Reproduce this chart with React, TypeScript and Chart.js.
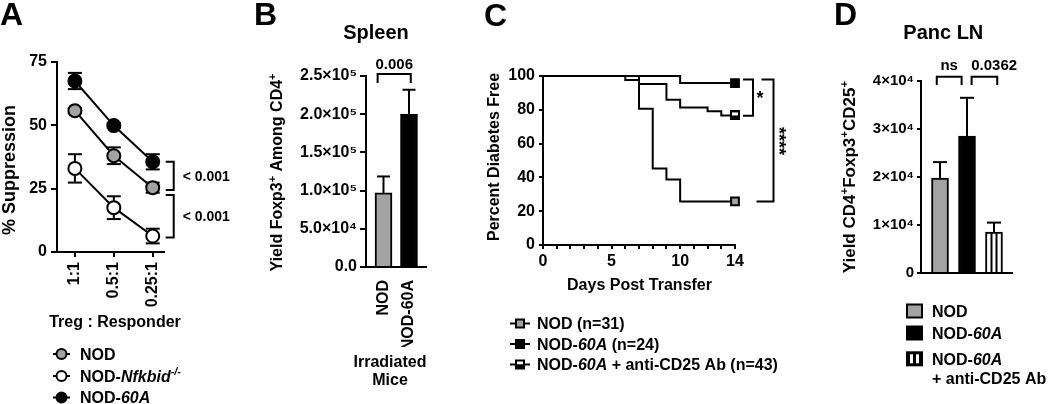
import React, { useEffect, useRef } from 'react';
import { Chart, registerables } from 'chart.js';

Chart.register(...registerables);

const W = 1050;
const H = 404;
const FAMILY = '"Liberation Sans", Arial, Helvetica, sans-serif';
const GREY = '#a3a3a3';
const BLACK = '#000000';
const WHITE = '#ffffff';

// ---------------- Panel A: % suppression ----------------
const ratioLabels = ['1:1', '0.5:1', '0.25:1'];
const suppressionNOD = [55.8, 38.0, 25.4];
const suppressionNODErr = [1.0, 3.3, 2.0];
const suppressionNfkbid = [33.0, 17.5, 6.3];
const suppressionNfkbidErr = [5.6, 4.5, 2.9];
const suppression60A = [67.5, 49.9, 35.6];
const suppression60AErr = [3.2, 1.0, 3.0];
const suppressionTicks = ['0', '25', '50', '75'];

// ---------------- Panel B: spleen yield ----------------
const spleenGroups = ['NOD', 'NOD-60A'];
const spleenYield = [97000, 200000];
const spleenYieldErr = [21500, 32000];
const spleenTicks = ['0.0', '5.0×10⁴', '1.0×10⁵', '1.5×10⁵', '2.0×10⁵', '2.5×10⁵'];

// ---------------- Panel C: survival ----------------
const survivalNODDays = [0, 7, 8, 9, 10, 14];
const survivalNOD = [100, 80.6, 45.2, 38.7, 25.8, 25.8];
const survival60ADays = [0, 10, 14];
const survival60A = [100, 95.8, 95.8];
const survivalCD25Days = [0, 6, 7, 9, 10, 12, 13, 14];
const survivalCD25 = [100, 97.7, 95.3, 86.0, 81.4, 79.1, 76.7, 76.7];
const dayTickValues = [0, 1, 2, 3, 4, 5, 6, 7, 8, 9, 10, 11, 12, 13, 14];
const dayTickLabels = ['0', '', '', '', '', '5', '', '', '', '', '10', '', '', '', '14'];
const percentTicks = ['0', '20', '40', '60', '80', '100'];

// ---------------- Panel D: pancreatic LN yield ----------------
const lnGroups = ['NOD', 'NOD-60A', 'NOD-60A + anti-CD25 Ab'];
const lnYield = [19800, 28500, 8500];
const lnYieldErr = [3300, 8000, 2000];
const lnTicks = ['0', '1×10⁴', '2×10⁴', '3×10⁴', '4×10⁴'];

// ---------------- helpers ----------------
function font(size: number, italic = false) {
  return `${italic ? 'italic ' : ''}bold ${size}px ${FAMILY}`;
}

type Seg = { t: string; i?: boolean; sup?: boolean };

function drawRich(ctx: any, segs: Seg[], x: number, y: number, size: number, align = 'left', rot = 0) {
  ctx.save();
  ctx.translate(x, y);
  if (rot) ctx.rotate(rot);
  ctx.textBaseline = 'alphabetic';
  ctx.textAlign = 'left';
  ctx.fillStyle = BLACK;
  const widths = segs.map((s) => {
    ctx.font = font(s.sup ? size * 0.68 : size, s.i);
    return ctx.measureText(s.t).width;
  });
  const total = widths.reduce((a, b) => a + b, 0);
  let cx = align === 'left' ? 0 : align === 'center' ? -total / 2 : -total;
  segs.forEach((s, k) => {
    ctx.font = font(s.sup ? size * 0.68 : size, s.i);
    ctx.fillText(s.t, cx, s.sup ? -size * 0.4 : 0);
    cx += widths[k];
  });
  ctx.restore();
}

function drawText(ctx: any, t: string, x: number, y: number, size: number, align = 'left', rot = 0) {
  drawRich(ctx, [{ t }], x, y, size, align, rot);
}

function drawGlyphsCentered(ctx: any, t: string, cx: number, cy: number, size: number, rot = 0) {
  ctx.save();
  ctx.translate(cx, cy);
  if (rot) ctx.rotate(rot);
  ctx.font = font(size);
  ctx.textAlign = 'center';
  ctx.textBaseline = 'alphabetic';
  const m = ctx.measureText(t);
  const off = (m.actualBoundingBoxAscent - m.actualBoundingBoxDescent) / 2;
  ctx.fillStyle = BLACK;
  ctx.fillText(t, 0, off);
  ctx.restore();
}

function line(ctx: any, pts: number[][], width = 2) {
  ctx.save();
  ctx.strokeStyle = BLACK;
  ctx.lineWidth = width;
  ctx.lineCap = 'butt';
  ctx.lineJoin = 'miter';
  ctx.beginPath();
  pts.forEach(([x, y], k) => (k ? ctx.lineTo(x, y) : ctx.moveTo(x, y)));
  ctx.stroke();
  ctx.restore();
}

function circle(ctx: any, x: number, y: number, r: number, fill: string) {
  ctx.save();
  ctx.beginPath();
  ctx.arc(x, y, r, 0, Math.PI * 2);
  ctx.fillStyle = fill;
  ctx.fill();
  ctx.lineWidth = 2;
  ctx.strokeStyle = BLACK;
  ctx.stroke();
  ctx.restore();
}

function layoutFor(L: number, T: number, R: number, B: number, wy: number, hx: number) {
  return { padding: { left: L - wy, top: T, right: W - R, bottom: H - B - hx } };
}

function yAxis(min: number, max: number, step: number, labels: string[], tickLength: number, padding: number, size: number, width: number) {
  return {
    type: 'linear',
    min,
    max,
    afterFit: (s: any) => {
      s.width = width;
    },
    border: { display: true, color: BLACK, width: 2 },
    grid: { display: true, drawOnChartArea: false, drawTicks: true, tickLength, color: BLACK, lineWidth: 2 },
    ticks: {
      stepSize: step,
      color: BLACK,
      padding,
      font: { family: FAMILY, size, weight: 'bold' },
      callback: (_v: any, i: number) => labels[i],
    },
  };
}

const common = {
  responsive: false,
  animation: false,
  devicePixelRatio: 1,
  events: [],
  plugins: { legend: { display: false }, tooltip: { enabled: false }, title: { display: false } },
};

function upErrorBars(chart: any, half: number) {
  const ctx = chart.ctx;
  const ys = chart.scales.y;
  const ds = chart.data.datasets[0];
  const meta = chart.getDatasetMeta(0);
  meta.data.forEach((el: any, j: number) => {
    const v = ds.data[j].y;
    const top = ys.getPixelForValue(v + ds.errors[j]);
    line(ctx, [[el.x, el.y], [el.x, top]]);
    line(ctx, [[el.x - half, top], [el.x + half, top]]);
  });
}

// ---------------- Panel A ----------------
function suppressionSeries(label: string, values: number[], errs: number[], fill: string) {
  return {
    label,
    data: values.map((y, i) => ({ x: i, y })),
    errors: errs,
    borderColor: BLACK,
    borderWidth: 2,
    pointRadius: 6.5,
    pointBackgroundColor: fill,
    pointBorderColor: BLACK,
    pointBorderWidth: 2,
    tension: 0,
    clip: false,
  };
}

const pluginA = {
  id: 'panelA',
  beforeDatasetsDraw(chart: any) {
    const ctx = chart.ctx;
    const ys = chart.scales.y;
    chart.data.datasets.forEach((ds: any, i: number) => {
      chart.getDatasetMeta(i).data.forEach((pt: any, j: number) => {
        const v = ds.data[j].y;
        const e = ds.errors[j];
        const lo = ys.getPixelForValue(v - e);
        const hi = ys.getPixelForValue(v + e);
        line(ctx, [[pt.x, lo], [pt.x, hi]]);
        line(ctx, [[pt.x - 7, hi], [pt.x + 7, hi]]);
        line(ctx, [[pt.x - 7, lo], [pt.x + 7, lo]]);
      });
    });
  },
  afterDraw(chart: any) {
    const ctx = chart.ctx;
    const xs = chart.scales.x;
    const ys = chart.scales.y;
    drawText(ctx, 'A', 0, 25, 32);
    drawText(ctx, '% Suppression', 15, 170, 18, 'center', -Math.PI / 2);
    drawText(ctx, 'Treg : Responder', 115, 327, 16, 'center');
    const bx = xs.getPixelForValue(2);
    const spans = [
      [ys.getPixelForValue(35.6), ys.getPixelForValue(24.5)],
      [ys.getPixelForValue(22.5), ys.getPixelForValue(5.7)],
    ];
    spans.forEach(([t, b]) => {
      line(ctx, [[bx + 13, t], [bx + 21, t], [bx + 21, b], [bx + 13, b]]);
      drawText(ctx, '< 0.001', bx + 30, (t + b) / 2 + 5, 14);
    });
    const rows = [
      { y: 354, fill: GREY, segs: [{ t: 'NOD' }] },
      { y: 376, fill: WHITE, segs: [{ t: 'NOD-' }, { t: 'Nfkbid', i: true }, { t: '-/-', i: true, sup: true }] },
      { y: 397.5, fill: BLACK, segs: [{ t: 'NOD-' }, { t: '60A', i: true }] },
    ];
    rows.forEach((r) => {
      line(ctx, [[53, r.y], [70, r.y]]);
      circle(ctx, 61.5, r.y, 5, r.fill);
      drawRich(ctx, r.segs, 80, r.y + 5.7, 16);
    });
  },
};

function configA(): any {
  return {
    type: 'line',
    data: {
      datasets: [
        suppressionSeries('NOD-60A', suppression60A, suppression60AErr, BLACK),
        suppressionSeries('NOD', suppressionNOD, suppressionNODErr, GREY),
        suppressionSeries('NOD-Nfkbid-/-', suppressionNfkbid, suppressionNfkbidErr, WHITE),
      ],
    },
    options: {
      ...common,
      layout: layoutFor(57, 62, 164, 252, 50, 60),
      scales: {
        x: {
          type: 'linear',
          min: -0.46,
          max: 2.29,
          offset: false,
          afterBuildTicks: (s: any) => {
            s.ticks = ratioLabels.map((_, i) => ({ value: i }));
          },
          afterFit: (s: any) => {
            s.height = 60;
          },
          border: { display: true, color: BLACK, width: 2 },
          grid: { display: true, drawOnChartArea: false, drawTicks: true, tickLength: 5, color: BLACK, lineWidth: 2, offset: false },
          ticks: {
            autoSkip: false,
            minRotation: 90,
            maxRotation: 90,
            padding: 5,
            color: BLACK,
            font: { family: FAMILY, size: 16, weight: 'bold' },
            callback: (_v: any, i: number) => ratioLabels[i],
          },
        },
        y: yAxis(0, 75, 25, suppressionTicks, 6, 4, 16, 50),
      },
    },
    plugins: [pluginA],
  };
}

// ---------------- Panel B ----------------
const pluginB = {
  id: 'panelB',
  afterDatasetsDraw(chart: any) {
    upErrorBars(chart, 6.5);
  },
  afterDraw(chart: any) {
    const ctx = chart.ctx;
    const xs = chart.scales.x;
    drawText(ctx, 'B', 254, 25, 32);
    drawText(ctx, 'Spleen', 376, 39, 20, 'center');
    drawRich(
      ctx,
      [{ t: 'Yield Foxp3' }, { t: '+', sup: true }, { t: ' Among CD4' }, { t: '+', sup: true }],
      282,
      172.5,
      16,
      'center',
      -Math.PI / 2
    );
    const x0 = xs.getPixelForValue(-0.23);
    const x1 = xs.getPixelForValue(1.07);
    line(ctx, [[x0, 83], [x0, 74], [x1, 74], [x1, 83]]);
    drawText(ctx, '0.006', (x0 + x1) / 2, 68.5, 15, 'center');
    drawText(ctx, 'Irradiated', 390, 366.5, 16, 'center');
    drawText(ctx, 'Mice', 390, 384.7, 16, 'center');
  },
};

function configB(): any {
  return {
    type: 'bar',
    data: {
      datasets: [
        {
          label: 'Yield',
          data: spleenYield.map((y, i) => ({ x: i, y })),
          errors: spleenYieldErr,
          backgroundColor: [GREY, BLACK],
          borderColor: BLACK,
          borderWidth: 2,
          barThickness: 17,
          clip: false,
        },
      ],
    },
    options: {
      ...common,
      layout: layoutFor(366, 76, 426, 267, 80, 80),
      scales: {
        x: {
          type: 'linear',
          min: -0.686,
          max: 1.667,
          offset: false,
          afterBuildTicks: (s: any) => {
            s.ticks = spleenGroups.map((_, i) => ({ value: i }));
          },
          afterFit: (s: any) => {
            s.height = 80;
          },
          border: { display: true, color: BLACK, width: 2 },
          grid: { display: false, offset: false },
          ticks: {
            autoSkip: false,
            minRotation: 90,
            maxRotation: 90,
            padding: 5,
            color: BLACK,
            font: { family: FAMILY, size: 16, weight: 'bold' },
            callback: (_v: any, i: number) => spleenGroups[i],
          },
        },
        y: yAxis(0, 250000, 50000, spleenTicks, 6, 3, 16, 80),
      },
    },
    plugins: [pluginB],
  };
}

// ---------------- Panel C ----------------
function survivalSeries(label: string, days: number[], values: number[], style: any) {
  return {
    label,
    data: days.map((x, i) => ({ x, y: values[i] })),
    stepped: true,
    borderColor: BLACK,
    borderWidth: 2,
    pointRadius: days.map((_, i) => (i === days.length - 1 ? 5.5 : 0)),
    pointStyle: style.pointStyle,
    pointBackgroundColor: style.fill,
    pointBorderColor: BLACK,
    pointBorderWidth: 2,
    clip: false,
  };
}

function halfSquare(size: number) {
  const c = document.createElement('canvas');
  c.width = size;
  c.height = size;
  const g = c.getContext('2d')!;
  g.fillStyle = BLACK;
  g.fillRect(0, 0, size, size);
  g.fillStyle = WHITE;
  g.fillRect(2, 2, size - 4, size / 2 - 2);
  return c;
}

function legendSquare(ctx: any, x: number, y: number, kind: string) {
  line(ctx, [[x - 10, y], [x + 10, y]]);
  const s = 8;
  ctx.save();
  if (kind === 'half') {
    ctx.fillStyle = WHITE;
    ctx.fillRect(x - s / 2, y - s / 2, s, s / 2);
    ctx.fillStyle = BLACK;
    ctx.fillRect(x - s / 2, y, s, s / 2);
  } else {
    ctx.fillStyle = kind;
    ctx.fillRect(x - s / 2, y - s / 2, s, s);
  }
  ctx.strokeStyle = BLACK;
  ctx.lineWidth = 2;
  ctx.strokeRect(x - s / 2, y - s / 2, s, s);
  ctx.restore();
}

const pluginC = {
  id: 'panelC',
  afterDraw(chart: any) {
    const ctx = chart.ctx;
    const xs = chart.scales.x;
    const ys = chart.scales.y;
    drawText(ctx, 'C', 484, 26, 32);
    drawText(ctx, 'Percent Diabetes Free', 498.5, 157, 16, 'center', -Math.PI / 2);
    drawText(ctx, 'Days Post Transfer', 639.5, 289.7, 16, 'center');
    const xe = xs.getPixelForValue(14);
    const yT = ys.getPixelForValue(98);
    const yS = ys.getPixelForValue(76.5);
    const yN = ys.getPixelForValue(25.8);
    line(ctx, [[xe + 8, yT], [xe + 18, yT], [xe + 18, yS], [xe + 8, yS]]);
    drawGlyphsCentered(ctx, '*', xe + 25, 94.5, 18);
    line(ctx, [[xe + 26.5, yT], [xe + 38.5, yT], [xe + 38.5, yN], [xe + 21.5, yN]]);
    drawGlyphsCentered(ctx, '****', xe + 47, 141, 18, Math.PI / 2);
    const rows = [
      { y: 323.5, kind: GREY, segs: [{ t: 'NOD (n=31)' }] },
      { y: 344, kind: BLACK, segs: [{ t: 'NOD-' }, { t: '60A', i: true }, { t: ' (n=24)' }] },
      { y: 364.5, kind: 'half', segs: [{ t: 'NOD-' }, { t: '60A', i: true }, { t: ' + anti-CD25 Ab (n=43)' }] },
    ];
    rows.forEach((r) => {
      legendSquare(ctx, 520, r.y, r.kind);
      drawRich(ctx, r.segs, 537, r.y + 5.7, 16);
    });
  },
};

function configC(): any {
  return {
    type: 'line',
    data: {
      datasets: [
        survivalSeries('NOD (n=31)', survivalNODDays, survivalNOD, { pointStyle: 'rect', fill: GREY }),
        survivalSeries('NOD-60A + anti-CD25 Ab (n=43)', survivalCD25Days, survivalCD25, { pointStyle: halfSquare(10), fill: WHITE }),
        survivalSeries('NOD-60A (n=24)', survival60ADays, survival60A, { pointStyle: 'rect', fill: BLACK }),
      ],
    },
    options: {
      ...common,
      layout: layoutFor(543, 76, 735, 245, 50, 30),
      scales: {
        x: {
          type: 'linear',
          min: 0,
          max: 14,
          offset: false,
          afterBuildTicks: (s: any) => {
            s.ticks = dayTickValues.map((v) => ({ value: v }));
          },
          afterFit: (s: any) => {
            s.height = 30;
          },
          border: { display: true, color: BLACK, width: 2 },
          grid: { display: true, drawOnChartArea: false, drawTicks: true, tickLength: 4, color: BLACK, lineWidth: 2, offset: false },
          ticks: {
            autoSkip: false,
            minRotation: 0,
            maxRotation: 0,
            padding: 3,
            color: BLACK,
            font: { family: FAMILY, size: 16, weight: 'bold' },
            callback: (_v: any, i: number) => dayTickLabels[i],
          },
        },
        y: yAxis(0, 100, 20, percentTicks, 4, 4, 16, 50),
      },
    },
    plugins: [pluginC],
  };
}

// ---------------- Panel D ----------------
const pluginD = {
  id: 'panelD',
  afterDatasetsDraw(chart: any) {
    const ctx = chart.ctx;
    const el = chart.getDatasetMeta(0).data[2];
    const xl = el.x - el.width / 2;
    ctx.save();
    ctx.fillStyle = BLACK;
    [5, 10].forEach((o) => ctx.fillRect(xl + o, el.y, 2, el.base - el.y));
    ctx.restore();
    upErrorBars(chart, 7);
  },
  afterDraw(chart: any) {
    const ctx = chart.ctx;
    const xs = chart.scales.x;
    drawText(ctx, 'D', 834, 25, 32);
    drawText(ctx, 'Panc LN', 943.3, 39, 20, 'center');
    drawRich(
      ctx,
      [{ t: 'Yield CD4' }, { t: '+', sup: true }, { t: 'Foxp3' }, { t: '+', sup: true }, { t: 'CD25' }, { t: '+', sup: true }],
      855,
      177,
      17,
      'center',
      -Math.PI / 2
    );
    const brackets = [
      { a: xs.getPixelForValue(-0.12), b: xs.getPixelForValue(0.8) },
      { a: xs.getPixelForValue(1.17), b: xs.getPixelForValue(2.12) },
    ];
    brackets.forEach((br) => {
      line(ctx, [[br.a, 85], [br.a, 76.7], [br.b, 76.7], [br.b, 85]]);
    });
    drawText(ctx, 'ns', 949.2, 69.5, 15, 'center');
    drawText(ctx, '0.0362', 994.2, 69.5, 15, 'center');
    const rows = [
      { y: 311, kind: GREY, segs: [{ t: 'NOD' }] },
      { y: 333, kind: BLACK, segs: [{ t: 'NOD-' }, { t: '60A', i: true }] },
      { y: 358.8, kind: 'stripe', segs: [{ t: 'NOD-' }, { t: '60A', i: true }] },
    ];
    rows.forEach((r) => {
      const x0 = 906;
      const w = 17;
      const h = 15;
      ctx.save();
      if (r.kind === 'stripe') {
        ctx.fillStyle = BLACK;
        ctx.fillRect(x0, r.y - h / 2, w, h);
        ctx.fillStyle = WHITE;
        ctx.fillRect(x0 + 4, r.y - h / 2 + 3, 3, h - 6);
        ctx.fillRect(x0 + 10, r.y - h / 2 + 3, 3, h - 6);
      } else {
        ctx.fillStyle = BLACK;
        ctx.fillRect(x0, r.y - h / 2, w, h);
        ctx.fillStyle = r.kind;
        ctx.fillRect(x0 + 2, r.y - h / 2 + 2, w - 4, h - 4);
      }
      ctx.restore();
      drawRich(ctx, r.segs, 932, r.y + 5.7, 16);
    });
    drawText(ctx, '+ anti-CD25 Ab', 932, 383.5, 16);
  },
};

function configD(): any {
  return {
    type: 'bar',
    data: {
      datasets: [
        {
          label: 'Yield',
          data: lnYield.map((y, i) => ({ x: i, y })),
          errors: lnYieldErr,
          backgroundColor: [GREY, BLACK, WHITE],
          borderColor: BLACK,
          borderWidth: 2,
          barThickness: 17,
          clip: false,
        },
      ],
    },
    options: {
      ...common,
      layout: layoutFor(921, 81, 1012, 273, 70, 20),
      scales: {
        x: {
          type: 'linear',
          min: -0.704,
          max: 2.667,
          offset: false,
          afterBuildTicks: (s: any) => {
            s.ticks = lnGroups.map((_, i) => ({ value: i }));
          },
          afterFit: (s: any) => {
            s.height = 20;
          },
          border: { display: true, color: BLACK, width: 2 },
          grid: { display: false, offset: false },
          ticks: { display: false },
        },
        y: yAxis(0, 40000, 10000, lnTicks, 4, 3, 15, 70),
      },
    },
    plugins: [pluginD],
  };
}

export default function App() {
  const refA = useRef<HTMLCanvasElement>(null);
  const refB = useRef<HTMLCanvasElement>(null);
  const refC = useRef<HTMLCanvasElement>(null);
  const refD = useRef<HTMLCanvasElement>(null);

  useEffect(() => {
    const charts = [
      new Chart(refA.current!, configA()),
      new Chart(refB.current!, configB()),
      new Chart(refC.current!, configC()),
      new Chart(refD.current!, configD()),
    ];
    return () => charts.forEach((c) => c.destroy());
  }, []);

  const style: any = { position: 'absolute', left: 0, top: 0, width: W, height: H };
  return (
    <div style={{ position: 'fixed', left: 0, top: 0, width: W, height: H, background: WHITE, overflow: 'hidden' }}>
      <canvas ref={refA} width={W} height={H} style={style} />
      <canvas ref={refB} width={W} height={H} style={style} />
      <canvas ref={refC} width={W} height={H} style={style} />
      <canvas ref={refD} width={W} height={H} style={style} />
    </div>
  );
}
